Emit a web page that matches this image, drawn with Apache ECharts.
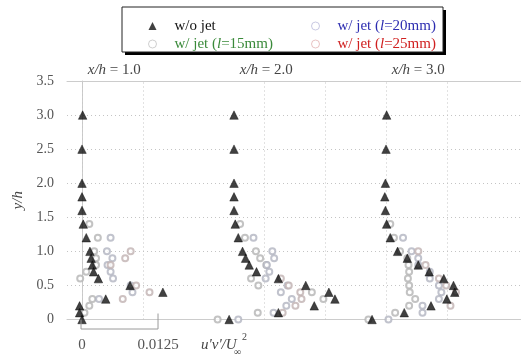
<!DOCTYPE html>
<html><head><meta charset="utf-8">
<script src="https://cdn.jsdelivr.net/npm/echarts@6/dist/echarts.min.js"></script>
<style>html,body{margin:0;padding:0;background:#fff}#c{width:521px;height:358px}</style>
</head><body><div id="c"></div>
<script>
// ---- data ----
const panelOffsets = [0, 0.025, 0.05];
const panelTitles = ['1.0', '2.0', '3.0'];
const yTicks = [0, 0.5, 1.0, 1.5, 2.0, 2.5, 3.0, 3.5];
const xGridValues = [0, 0.0125, 0.025, 0.0375, 0.05, 0.0625];
const xTickLabels = ['0', '0.0125'];

// w/o jet: heights and u'v' per panel
const woY = [3.0, 2.5, 2.0, 1.8, 1.6, 1.4, 1.2, 1.0, 0.9, 0.8, 0.7, 0.6, 0.5, 0.4, 0.3, 0.2, 0.1, 0];
const wo1 = [0.0001, 0.0000, 0.0000, 0.0000, 0.0000, 0.0002, 0.0007, 0.0013, 0.0015, 0.0017, 0.0019, 0.0027, 0.0079, 0.0133, 0.0039, -0.0004, -0.0004, 0.0000];
const wo2 = [0.0000, 0.0000, 0.0000, 0.0000, 0.0000, 0.0002, 0.0007, 0.0014, 0.0019, 0.0025, 0.0037, 0.0073, 0.0118, 0.0156, 0.0166, 0.0132, 0.0073, -0.0008];
const wo3 = [0.0001, 0.0000, -0.0001, -0.0002, -0.0001, 0.0001, 0.0007, 0.0019, 0.0035, 0.0053, 0.0071, 0.0095, 0.0111, 0.0113, 0.0100, 0.0074, 0.0030, -0.0023];

// w/ jet l=15mm  [u'v', y/h]
const j15p1 = [[0.0012,1.4],[0.0026,1.2],[0.0020,1.0],[0.0023,0.9],[0.0023,0.8],[0.0007,0.7],[-0.0003,0.6],[0.0017,0.3],[0.0012,0.2],[0.0004,0.1]];
const j15p2 = [[0.0010,1.4],[0.0018,1.2],[0.0036,1.0],[0.0043,0.9],[0.0053,0.8],[0.0028,0.6],[0.0040,0.5],[0.0128,0.4],[0.0147,0.3],[0.0039,0.1],[-0.0027,0]];
const j15p3 = [[0.0007,1.4],[0.0013,1.2],[0.0023,1.0],[0.0035,0.9],[0.0037,0.8],[0.0038,0.7],[0.0036,0.6],[0.0038,0.5],[0.0039,0.4],[0.0048,0.3],[0.0038,0.2],[0.0015,0.1],[-0.0029,0]];
// w/ jet l=20mm
const j20p1 = [[0.0047,1.2],[0.0041,1.0],[0.0050,0.9],[0.0042,0.8],[0.0047,0.7],[0.0051,0.6],[0.0080,0.5],[0.0083,0.4],[0.0028,0.3]];
const j20p2 = [[0.0032,1.2],[0.0063,1.0],[0.0066,0.9],[0.0054,0.8],[0.0058,0.7],[0.0052,0.6],[0.0088,0.5],[0.0077,0.4],[0.0095,0.3],[0.0086,0.2],[0.0065,0.1],[0.0007,0]];
const j20p3 = [[0.0028,1.2],[0.0042,1.0],[0.0053,0.9],[0.0053,0.8],[0.0072,0.7],[0.0072,0.6],[0.0087,0.5],[0.0091,0.4],[0.0087,0.3],[0.0060,0.2],[0.0060,0.1],[0.0004,0]];
// w/ jet l=25mm
const j25p1 = [[0.0080,1.0],[0.0071,0.9],[0.0047,0.8],[0.0089,0.5],[0.0111,0.4],[0.0067,0.3]];
const j25p2 = [[0.0077,0.6],[0.0090,0.5],[0.0109,0.4],[0.0111,0.3],[0.0101,0.2],[0.0080,0.1]];
const j25p3 = [[0.0053,1.0],[0.0065,0.8],[0.0087,0.6],[0.0099,0.5],[0.0115,0.4],[0.0106,0.2]];

const seriesNames = ['w/o jet', 'w/ jet (l=15mm)', 'w/ jet (l=20mm)', 'w/ jet (l=25mm)'];

// ---- build ----
const SERIF = '"Liberation Serif", "DejaVu Serif", serif';
const XMIN = -0.00247, XMAX = 0.0722;
const woPanels = [wo1, wo2, wo3];
const jetPanels = [[j15p1, j15p2, j15p3], [j20p1, j20p2, j20p3], [j25p1, j25p2, j25p3]];
const circleColors = ['#b4b4b4', '#b2b4c0', '#c0b2b2'];

const series = [];
// vertical dotted gridlines
series.push({
  type: 'line', data: [], silent: true,
  markLine: {
    symbol: 'none', silent: true, label: {show: false},
    lineStyle: {color: '#c4c4c4', type: [1, 3], width: 1},
    data: xGridValues.map(v => ({xAxis: v}))
  }
});
jetPanels.forEach((panels, si) => {
  panels.forEach((pts, pi) => {
    series.push({
      name: seriesNames[si + 1], type: 'scatter', symbol: 'emptyCircle', symbolSize: 6, z: 3,
      itemStyle: {color: circleColors[si], borderColor: circleColors[si], borderWidth: 1},
      data: pts.map(p => [p[0] + panelOffsets[pi], p[1]])
    });
  });
});
woPanels.forEach((arr, pi) => {
  series.push({
    name: seriesNames[0], type: 'scatter', symbol: 'triangle', symbolSize: 8.5, z: 5,
    itemStyle: {color: '#111', borderColor: '#000', borderWidth: 0.5},
    data: arr.map((u, i) => [u + panelOffsets[pi], woY[i]])
  });
});

const legendText = {fontFamily: SERIF, fontSize: 15, lineHeight: 18, padding: [0, 0, 0, 13],
  rich: {i: {fontStyle: 'italic', fontFamily: SERIF, fontSize: 15}}};
const fmt = n => n.replace('(l=', '({i|l}=');

const chart = echarts.init(document.getElementById('c'), null, {renderer: 'canvas'});
chart.setOption({
  animation: false,
  backgroundColor: '#fff',
  grid: {left: 67, right: 0, top: 81, bottom: 38.5},
  legend: [
    {left: 143, top: 12, orient: 'vertical', itemGap: 0, itemWidth: 8, itemHeight: 8,
      textStyle: legendText, formatter: fmt, selectedMode: false,
      data: [
        {name: seriesNames[0], icon: 'triangle', itemStyle: {color: '#111', borderWidth: 0}, textStyle: {color: '#111'}},
        {name: seriesNames[1], icon: 'circle', itemStyle: {color: '#fff', borderColor: '#c4c4c4', borderWidth: 1}, textStyle: {color: '#3a8a3a'}}
      ]},
    {left: 306, top: 12, orient: 'vertical', itemGap: 0, itemWidth: 8, itemHeight: 8,
      textStyle: legendText, formatter: fmt, selectedMode: false,
      data: [
        {name: seriesNames[2], icon: 'circle', itemStyle: {color: '#fff', borderColor: '#bcbcdc', borderWidth: 1}, textStyle: {color: '#2c2cb0'}},
        {name: seriesNames[3], icon: 'circle', itemStyle: {color: '#fff', borderColor: '#e4b4b4', borderWidth: 1}, textStyle: {color: '#d02020'}}
      ]}
  ],
  xAxis: [
    {type: 'value', min: XMIN, max: XMAX, position: 'bottom',
      axisLine: {show: true, lineStyle: {color: '#cccccc'}}, axisTick: {show: false}, splitLine: {show: false},
      axisLabel: {customValues: [0, 0.0125], formatter: v => (v === 0 ? xTickLabels[0] : xTickLabels[1]),
        margin: 18, fontFamily: SERIF, fontSize: 15, color: '#555'}},
    {type: 'value', min: XMIN, max: XMAX, position: 'top',
      axisLine: {show: true, lineStyle: {color: '#cccccc'}}, axisTick: {show: false}, splitLine: {show: false},
      axisLabel: {show: false}}
  ],
  yAxis: {type: 'value', min: 0, max: 3.5, interval: 0.5,
    name: 'y/h', nameLocation: 'middle', nameGap: 32, nameRotate: 90,
    nameTextStyle: {fontFamily: SERIF, fontSize: 15, fontStyle: 'italic', color: '#444'},
    axisLine: {show: true, lineStyle: {color: '#cccccc'}}, axisTick: {show: false},
    splitLine: {show: true, lineStyle: {color: '#c4c4c4', type: [1, 3]}},
    axisLabel: {margin: 13, fontFamily: SERIF, fontSize: 14, color: '#555',
      formatter: v => (yTicks.indexOf(v) >= 0 ? (v === 0 ? '0' : v.toFixed(1)) : '')}},
  series: series
});

// decorations placed from axis scales
const px = v => chart.convertToPixel({xAxisIndex: 0}, v);
const py = v => chart.convertToPixel({yAxisIndex: 0}, v);
const x0 = px(0), x1 = px(0.0125), yb = py(0), yt = py(3.5);
const g = [];
g.push({type: 'rect', z: 1, shape: {x: 125, y: 10, width: 321, height: 45}, style: {fill: '#000'}});
g.push({type: 'rect', z: 1, shape: {x: 122, y: 7, width: 321, height: 45},
  style: {fill: '#fff', stroke: '#222', lineWidth: 1}});
panelTitles.forEach((t, i) => {
  g.push({type: 'text', z: 10, x: px(panelOffsets[i] + 0.0053), y: yt - 11,
    style: {text: '{i|x/h} = ' + t, fontFamily: SERIF, fontSize: 15, fill: '#444', align: 'center', verticalAlign: 'middle',
      rich: {i: {fontStyle: 'italic', fontFamily: SERIF, fontSize: 15, fill: '#444'}}}});
});
g.push({type: 'polyline', z: 10, shape: {points: [[x0 - 1, yb], [x0 - 1, yb + 9.5], [x1, yb + 9.5], [x1, yb - 6]]},
  style: {stroke: '#9a9a9a', lineWidth: 1, fill: null}});
g.push({type: 'text', z: 10, x: x1 + 43, y: yb + 26,
  style: {text: "u'v'/U", fontFamily: SERIF, fontSize: 15, fontStyle: 'italic', fill: '#444', verticalAlign: 'middle'}});
g.push({type: 'text', z: 10, x: x1 + 76, y: yb + 33,
  style: {text: '\u221e', fontFamily: SERIF, fontSize: 10, fill: '#444', verticalAlign: 'middle'}});
g.push({type: 'text', z: 10, x: x1 + 84, y: yb + 18,
  style: {text: '2', fontFamily: SERIF, fontSize: 10, fill: '#444', verticalAlign: 'middle'}});
chart.setOption({graphic: g});
</script>
</body></html>
